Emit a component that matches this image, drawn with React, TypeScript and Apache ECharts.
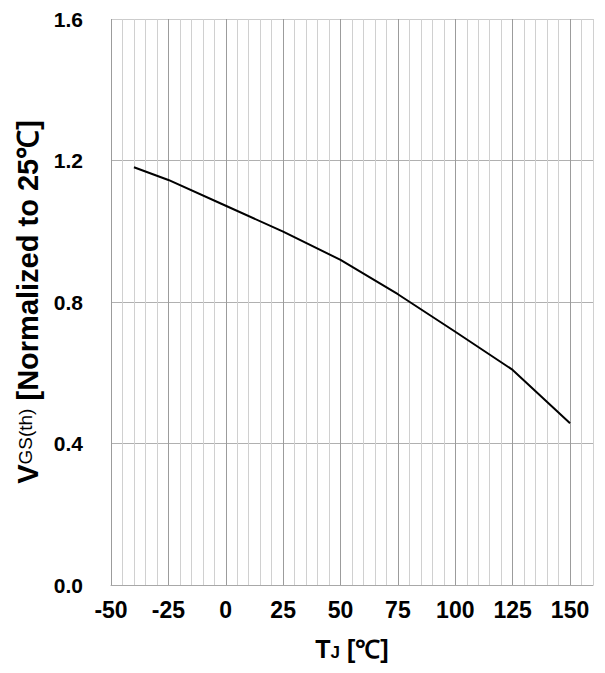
import React, { useEffect, useRef } from "react";
import * as echarts from "echarts";

const temperatures = [-40, -25, 0, 25, 50, 75, 100, 125, 150];
const vgsNormalized = [1.181, 1.145, 1.072, 0.999, 0.919, 0.822, 0.716, 0.608, 0.457];
const xMajorTicks = [-50, -25, 0, 25, 50, 75, 100, 125, 150];
const yTicks = [0.0, 0.4, 0.8, 1.2, 1.6];

const FONT = "'Liberation Sans', Arial, Helvetica, sans-serif";

export default function App() {
  const ref = useRef<HTMLDivElement>(null);
  useEffect(() => {
    document.body.style.margin = "0";
    if (!ref.current) return;
    const chart = echarts.init(ref.current, undefined, { renderer: "svg" });
    const data = temperatures.map((t, i) => [t, vgsNormalized[i]]);
    chart.setOption({
      animation: false,
      backgroundColor: "#ffffff",
      grid: { left: 111, right: 12, top: 19, bottom: 88, containLabel: false },
      xAxis: {
        type: "value",
        min: -50,
        max: 160,
        interval: 5,
        axisLine: { show: true, lineStyle: { color: "#a8a8a8", width: 1 } },
        axisTick: { show: false },
        axisLabel: {
          margin: 13,
          fontFamily: FONT,
          fontWeight: "bold",
          fontSize: 23,
          color: "#000",
          showMaxLabel: false,
          formatter: (v: number) => (xMajorTicks.includes(v) ? String(v) : ""),
        },
        splitLine: {
          show: true,
          lineStyle: {
            color: ["#9c9c9c", "#d0d0d0", "#d0d0d0", "#d0d0d0", "#d0d0d0"],
            width: 1,
          },
        },
        name: "{a|T}{b|J}{a| [℃]}",
        nameLocation: "middle",
        nameGap: 49,
        nameTextStyle: {
          rich: {
            a: { fontFamily: FONT, fontWeight: "bold", fontSize: 25, color: "#000", verticalAlign: "bottom", lineHeight: 27 },
            b: { fontFamily: FONT, fontWeight: "bold", fontSize: 17, color: "#000", verticalAlign: "bottom", lineHeight: 23 },
          },
        },
      },
      yAxis: {
        type: "value",
        min: 0,
        max: 1.6,
        interval: 0.4,
        axisLine: { show: false },
        axisTick: { show: false },
        axisLabel: {
          margin: 28,
          fontFamily: FONT,
          fontWeight: "bold",
          fontSize: 21,
          color: "#000",
          formatter: (v: number) => {
            const t = yTicks.find((y) => Math.abs(y - v) < 1e-6);
            return t === undefined ? "" : t.toFixed(1);
          },
        },
        splitLine: {
          show: true,
          lineStyle: { color: ["#a8a8a8", "#b0b0b0", "#b0b0b0", "#b0b0b0", "#cccccc"], width: 1 },
        },
        name: "{a|V}{b|GS(th)}{a| [Normalized to 25℃]}",
        nameLocation: "middle",
        nameGap: 63,
        nameTextStyle: {
          rich: {
            a: { fontFamily: FONT, fontWeight: "bold", fontSize: 29, color: "#000", lineHeight: 30 },
            b: { fontFamily: FONT, fontWeight: "normal", fontSize: 19, color: "#000", lineHeight: 30, verticalAlign: "top", padding: [3, 0, 0, 0] },
          },
        },
      },
      series: [
        {
          type: "line",
          data,
          showSymbol: false,
          symbol: "none",
          smooth: false,
          lineStyle: { color: "#000000", width: 2 },
        },
      ],
    });
    return () => chart.dispose();
  }, []);
  return <div ref={ref} style={{ width: 605, height: 673 }} />;
}
